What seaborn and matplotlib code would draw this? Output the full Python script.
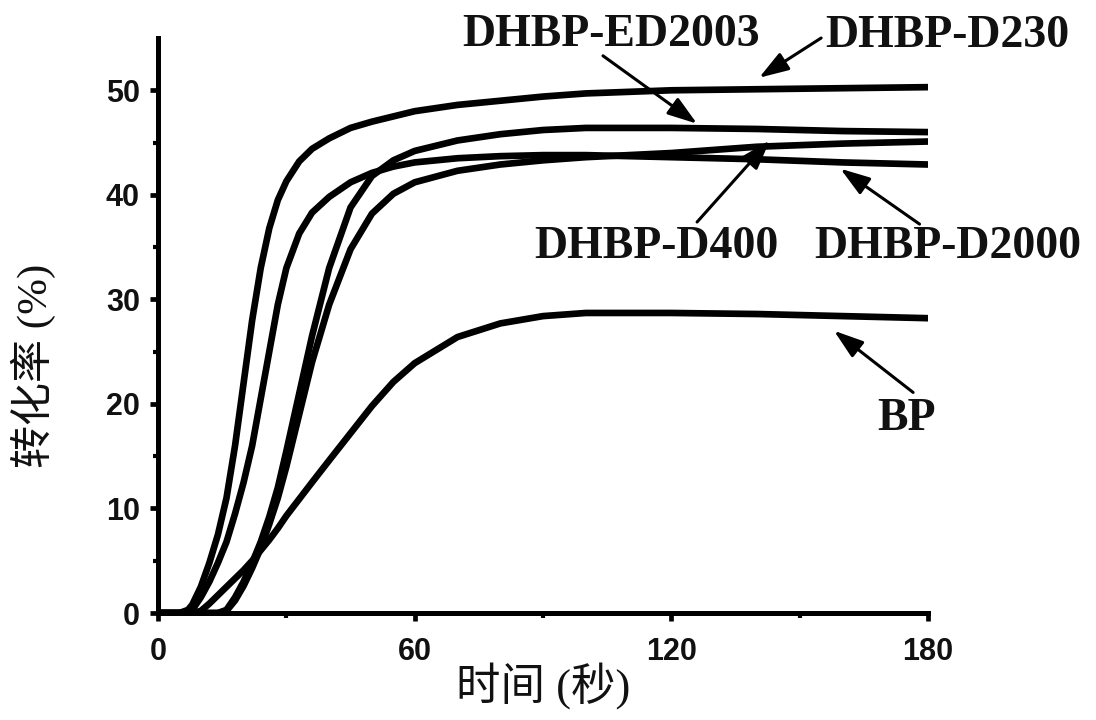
import matplotlib
matplotlib.use("Agg")
import matplotlib.pyplot as plt
import pandas as pd
import seaborn as sns

# Reaction time (s) and conversion (%) for each photoinitiator
time_s = [0, 5, 7, 8, 10, 12, 14, 16, 18, 20, 22, 24, 26, 28, 30, 33, 36, 40,
          45, 50, 55, 60, 70, 80, 90, 100, 120, 140, 160, 180]

dhbp_d230 = [0, 0, 0.3, 0.8, 2.5, 4.8, 7.5, 11, 16, 22, 28, 33, 36.8, 39.5, 41.3,
             43.2, 44.4, 45.4, 46.4, 47.0, 47.5, 48.0, 48.6, 49.0, 49.4, 49.7,
             50.0, 50.1, 50.2, 50.3]
dhbp_d2000 = [0, 0, 0, 0.3, 1.5, 3.0, 4.8, 6.8, 9.5, 12.5, 16, 20.5, 25, 29.5, 33,
              36.3, 38.3, 39.8, 41.2, 42.1, 42.7, 43.1, 43.5, 43.7, 43.8, 43.8,
              43.6, 43.4, 43.1, 42.9]
dhbp_ed2003 = [0, 0, 0, 0, 0, 0, 0, 0.3, 1.5, 3.0, 4.8, 6.8, 9.2, 12, 15.5, 21,
               26.5, 33, 38.8, 41.8, 43.3, 44.2, 45.2, 45.8, 46.2, 46.4, 46.4,
               46.3, 46.1, 46.0]
dhbp_d400 = [0, 0, 0, 0, 0, 0, 0, 0.2, 1.2, 2.6, 4.3, 6.2, 8.5, 11, 14, 19, 24,
             29.5, 34.8, 38.2, 40.1, 41.2, 42.3, 42.9, 43.3, 43.6, 44.0, 44.6,
             44.9, 45.1]
bp = [0, 0, 0, 0, 0.2, 0.9, 1.7, 2.5, 3.3, 4.1, 5.0, 6.0, 7.0, 8.1, 9.3, 10.9,
      12.5, 14.6, 17.2, 19.8, 22.1, 23.9, 26.4, 27.7, 28.4, 28.7, 28.7, 28.6,
      28.4, 28.2]

series_names = ["DHBP-D230", "DHBP-D2000", "DHBP-ED2003", "DHBP-D400", "BP"]
series_values = [dhbp_d230, dhbp_d2000, dhbp_ed2003, dhbp_d400, bp]

x_ticks = [0, 60, 120, 180]
y_ticks = [0, 10, 20, 30, 40, 50]

# label text position (x, baseline y), arrow tail, arrow tip, in data units
label_text = [("DHBP-ED2003", 105.8, 54.2, (104.0, 53.3), (126.0, 46.8)),
              ("DHBP-D230", 184.5, 54.1, (155.0, 55.0), (140.5, 51.2)),
              ("DHBP-D400", 116.5, 34.0, (126.0, 37.4), (143.0, 45.2)),
              ("DHBP-D2000", 184.5, 34.0, (178.0, 37.2), (159.5, 42.5)),
              ("BP", 175.0, 17.5, (176.5, 21.1), (158.0, 27.0))]

frames = [pd.DataFrame({"time": time_s, "conv": vals, "sample": name})
          for name, vals in zip(series_names, series_values)]
df = pd.concat(frames, ignore_index=True)

sns.set_theme(style="ticks")
plt.rcParams["font.family"] = ["Liberation Sans", "DejaVu Sans"]

fig = plt.figure(figsize=(10.96, 7.2), dpi=100)
ax = fig.add_axes([0.1442, 0.1486, 0.7026, 0.7986])

sns.lineplot(data=df, x="time", y="conv", hue="sample",
             palette={n: "black" for n in series_names},
             estimator=None, sort=False, legend=False,
             linewidth=4.8, ax=ax)

ax.set_xlim(0, 180)
ax.set_ylim(0, 55)
ax.set_xticks(x_ticks)
ax.set_yticks(y_ticks)
ax.set_xticks([30, 90, 150], minor=True)
ax.set_yticks([5, 15, 25, 35, 45], minor=True)
ax.set_xticklabels([str(t) for t in x_ticks])
ax.set_yticklabels([str(t) for t in y_ticks])

for side in ("top", "right"):
    ax.spines[side].set_visible(False)
for side in ("left", "bottom"):
    ax.spines[side].set_linewidth(3.6)
    ax.spines[side].set_color("black")
    ax.spines[side].set_capstyle("projecting")

ax.tick_params(axis="both", which="major", direction="out", length=6,
               width=3.4, color="black")
ax.tick_params(axis="x", which="major", pad=11)
ax.tick_params(axis="y", which="major", pad=7)
ax.tick_params(axis="both", which="minor", direction="out", length=3.5,
               width=3.0, color="black")
for lbl in ax.get_xticklabels() + ax.get_yticklabels():
    lbl.set_fontfamily("Liberation Sans")
    lbl.set_fontweight("bold")
    lbl.set_fontsize(22)
    lbl.set_color("#111111")

cjk_serif = ["Liberation Serif", "Noto Sans CJK SC"]
ax.set_xlabel("时间 (秒)", fontsize=32, family=cjk_serif, color="#111111")
ax.set_ylabel("转化率 (%)", fontsize=31, family=cjk_serif, color="#111111")
ax.xaxis.set_label_coords(0.5, -0.087)
ax.yaxis.set_label_coords(-0.133, 0.43)

for text, tx, ty, tail, tip in label_text:
    ax.annotate("", xy=tip, xytext=tail, annotation_clip=False,
                arrowprops=dict(arrowstyle="-|>,head_length=0.9,head_width=0.3",
                                mutation_scale=20, color="black", lw=2.2,
                                shrinkA=0, shrinkB=0))
    ax.text(tx, ty, text, ha="center", va="baseline", fontsize=33,
            family="Liberation Serif", fontweight="bold", color="#111111",
            clip_on=False)

fig.savefig("out.png", dpi=100, facecolor="white")
